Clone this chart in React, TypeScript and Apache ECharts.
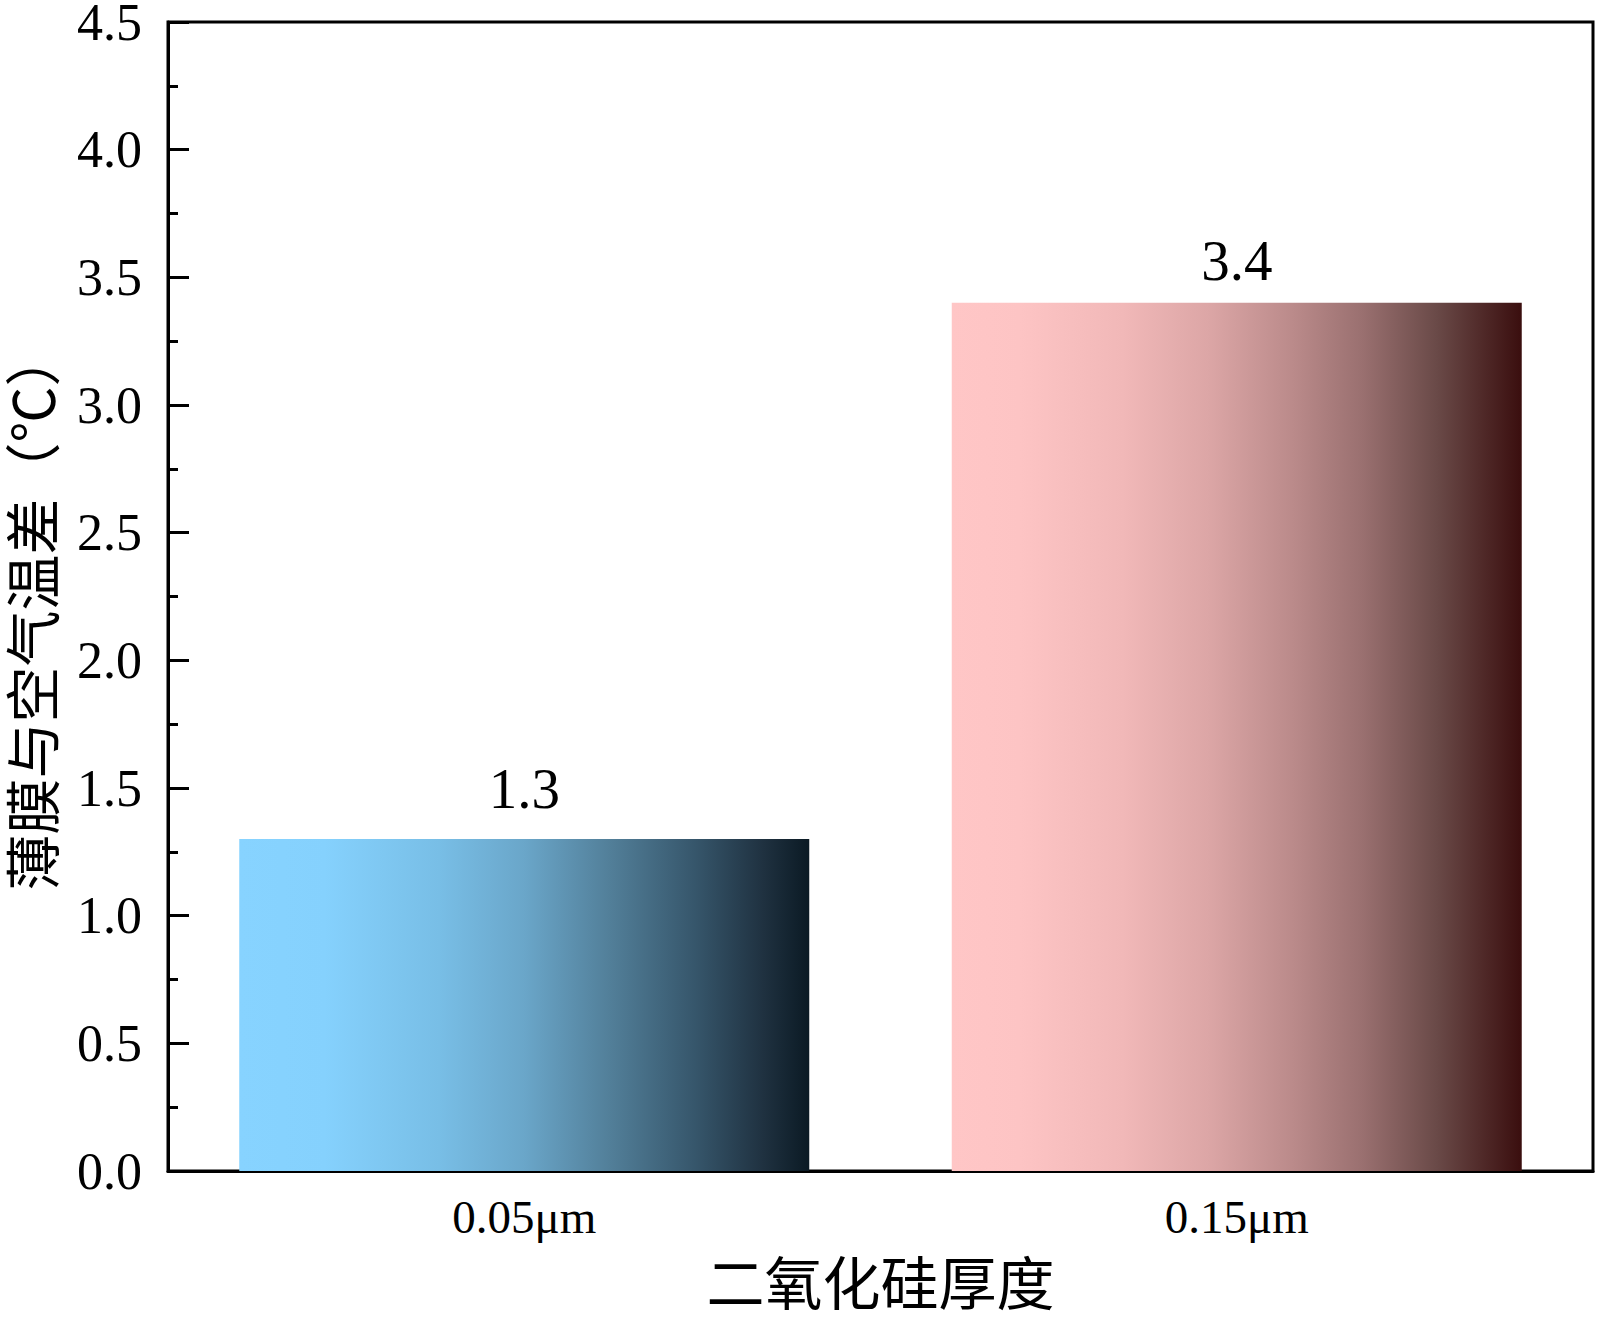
import React, { useEffect, useRef } from "react";
import * as echarts from "echarts";

const categories = ["0.05μm", "0.15μm"];
const values = [1.3, 3.4];
const yTicks = { min: 0, max: 4.5, interval: 0.5 };
const xTitle = "二氧化硅厚度";
const yTitle = "薄膜与空气温差（℃）";

const gradientStops: [number, string][][] = [
  [
    [0, "#87D3FF"],
    [0.15, "#85D1FD"],
    [0.35, "#78BEE6"],
    [0.5, "#6AA6C9"],
    [0.65, "#527F99"],
    [0.8, "#36566B"],
    [0.92, "#1F3140"],
    [1, "#0B1A24"],
  ],
  [
    [0, "#FFC6C6"],
    [0.12, "#FDC4C4"],
    [0.3, "#F1B8B8"],
    [0.45, "#DCA6A6"],
    [0.6, "#BA8A8A"],
    [0.72, "#9A7070"],
    [0.85, "#6A4A48"],
    [1, "#3A0E0E"],
  ],
];
const labelDistances = [22, 14];

const SERIF = "'Times New Roman', 'Liberation Serif', 'Noto Sans CJK SC', serif";

export default function App() {
  const ref = useRef<HTMLDivElement>(null);
  useEffect(() => {
    document.body.style.margin = "0";
    if (!ref.current) return;
    const chart = echarts.init(ref.current, undefined, { renderer: "svg" });
    chart.setOption({
      animation: false,
      backgroundColor: "#fff",
      grid: {
        left: 168,
        top: 22,
        right: 7,
        bottom: 163,
        show: true,
        borderColor: "#000",
        borderWidth: 3,
        containLabel: false,
        outerBoundsMode: "none",
      },
      xAxis: {
        type: "category",
        data: categories,
        name: xTitle,
        nameLocation: "middle",
        nameGap: 80,
        nameTextStyle: { fontFamily: "'Noto Sans CJK SC'", fontSize: 58, color: "#000" },
        axisLine: { lineStyle: { color: "#000", width: 3 } },
        axisTick: { show: false },
        axisLabel: { fontFamily: SERIF, fontSize: 47, color: "#000", margin: 22 },
      },
      yAxis: {
        type: "value",
        min: yTicks.min,
        max: yTicks.max,
        interval: yTicks.interval,
        name: yTitle,
        nameLocation: "middle",
        nameGap: 114,
        nameTextStyle: {
          fontFamily: "'Noto Sans CJK SC'",
          fontSize: 56,
          lineHeight: 50,
          color: "#000",
          padding: [0, 28, 0, 0],
        },
        axisLine: { show: true, lineStyle: { color: "#000", width: 3 } },
        axisTick: { show: true, inside: true, length: 21, lineStyle: { color: "#000", width: 3 } },
        minorTick: { show: true, splitNumber: 2, length: 10, lineStyle: { color: "#000", width: 3 } },
        splitLine: { show: false },
        axisLabel: {
          fontFamily: SERIF,
          fontSize: 52,
          lineHeight: 40,
          color: "#000",
          margin: 26,
          formatter: (v: number) => v.toFixed(1),
        },
      },
      series: [
        {
          type: "bar",
          barWidth: "80%",
          data: values.map((v, i) => ({
            value: v,
            label: { distance: labelDistances[i] },
            itemStyle: {
              color: new echarts.graphic.LinearGradient(
                0,
                0,
                1,
                0,
                gradientStops[i].map(([offset, color]) => ({ offset, color }))
              ),
            },
          })),
          label: {
            show: true,
            position: "top",
            distance: 6,
            fontFamily: SERIF,
            fontSize: 57,
            color: "#000",
            formatter: (p: any) => p.value.toFixed(1),
          },
        },
      ],
    });
    return () => chart.dispose();
  }, []);
  return <div ref={ref} style={{ width: 1600, height: 1334 }} />;
}
